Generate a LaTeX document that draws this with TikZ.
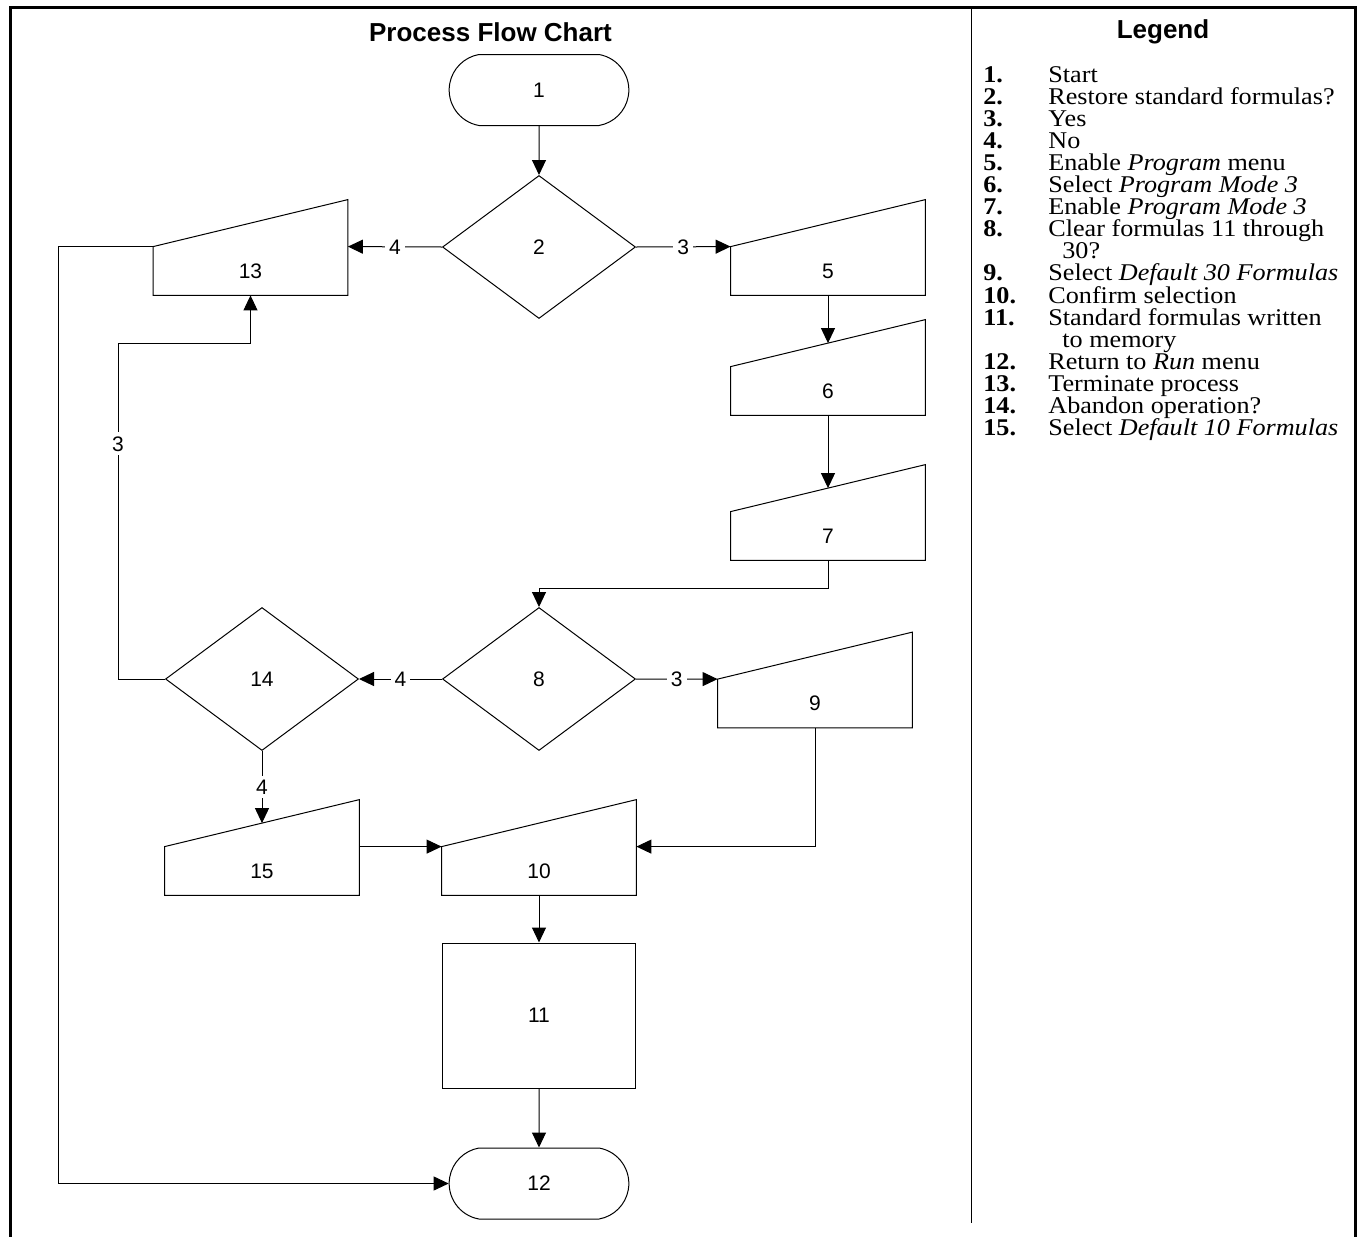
\documentclass[tikz,border=0pt]{standalone}
\usepackage{fontspec}
\setmainfont{Liberation Serif}
\setsansfont{Liberation Sans}
\usetikzlibrary{shapes.geometric, shapes.misc, arrows.meta, positioning}
\newcommand{\chartfont}{\sffamily\fontsize{10.5}{12}\selectfont}
\newcommand{\legwide}[1]{\scalebox{1.09}[1]{#1}}
\tikzstyle{term} = [rounded rectangle, rounded rectangle arc length=160, minimum width=96.5pt, minimum height=35.5pt, draw, line width=0.5pt, font=\chartfont]
\tikzstyle{decision} = [diamond, minimum width=96.5pt, minimum height=71.5pt, inner sep=0pt, draw, line width=0.5pt, font=\chartfont]
\tikzstyle{manin} = [rectangle, minimum width=97pt, minimum height=24pt, inner sep=0pt, font=\chartfont]
\tikzstyle{process} = [rectangle, minimum width=96.5pt, minimum height=72.5pt, draw, line width=0.5pt, font=\chartfont]
\tikzstyle{arrow} = [line width=0.5pt, -{Triangle[length=7.5pt,width=7pt]}]
\tikzstyle{lbl} = [fill=white, inner sep=2pt, font=\chartfont]
\tikzstyle{header} = [font=\sffamily\bfseries\fontsize{13}{15}\selectfont]
\tikzstyle{legnum} = [anchor=base west, inner sep=0pt, font=\bfseries\fontsize{12}{14}\selectfont]
\tikzstyle{legtxt} = [anchor=base west, inner sep=0pt, font=\fontsize{12}{14}\selectfont]

\begin{document}
\begin{tikzpicture}[x=0.5pt, y=-0.5pt, node distance=78.5pt]
        \useasboundingbox (0,0) rectangle (1361,1237);
        % frame and column rule
        \draw[line width=1.5pt] (10,1237) |- (1355,7) -- (1355,1237);
        \draw[line width=0.5pt] (971,7) -- (971,1223);
        \node (title) [header] at (490.5,32) {Process Flow Chart};
        \node (legtitle) [header] at (1163,32) {Legend};

        \node (n1) [term] at (539,90) {1};
        \node (n2) [decision, below of=n1] {2};
        \node (n13) [manin, left of=n2, xshift=-65.75pt, yshift=-12pt] {13};
        \node (n5) [manin, right of=n2, xshift=66pt, yshift=-12pt] {5};
        \node (n6) [manin, below of=n5, yshift=18.5pt] {6};
        \node (n7) [manin, below of=n6, yshift=6pt] {7};

        \node (n8) [decision, below of=n2, yshift=-137.5pt] {8};
        \node (n14) [decision, left of=n8, xshift=-60pt] {14};
        \node (n9) [manin, right of=n8, xshift=59.5pt, yshift=-12.25pt] {9};
        \node (n10) [manin, below of=n8, yshift=-17.5pt] {10};
        \node (n15) [manin, left of=n10, xshift=-60pt] {15};
        \node (n11) [process, below of=n10, yshift=6.25pt] {11};
        \node (n12) [term, below of=n11, yshift=-5.5pt] {12};

        % manual input outlines
        \foreach \n in {n13,n5,n6,n7,n9,n15,n10} {
            \draw[line width=0.5pt] (\n.north west) -- ([yshift=23.5pt]\n.north east) -- (\n.south east) -- (\n.south west) -- cycle;
            \coordinate (\n-top) at ([yshift=11.75pt]\n.north);
        }
        \coordinate (bend) at (118,343);

        \draw [arrow] (n1) -- (n2);
        \draw [arrow] (n2.west) -- node[lbl] {4} (n13.north east);
        \draw [arrow] (n2.east) -- node[lbl] {3} (n5.north west);
        \draw [arrow] (n5.south) -- (n6-top);
        \draw [arrow] (n6.south) -- (n7-top);
        \draw [arrow] (n7.south) -- ++(0,28) -| (n8.north);
        \draw [arrow] (n8.west) -- node[lbl] {4} (n14.east);
        \draw [arrow] (n8.east) -- node[lbl] {3} (n9.north west);
        \draw [arrow] (n14.west) -| node[lbl, pos=0.85] {3} (bend) -| (n13.south);
        \draw [arrow] (n14.south) -- node[lbl] {4} (n14.south |- n15-top);
        \draw [arrow] (n15.north east) -- (n10.north west);
        \draw [arrow] (n9.south) |- (n10.north east);
        \draw [arrow] (n10) -- (n11);
        \draw [arrow] (n11) -- (n12);
        \draw [arrow] (n13.north west) -- ++(-95,0) |- (n12.west);

        % legend
        \foreach \num/\txt/\row in {1/Start/0, 2/Restore standard formulas?/1, 3/Yes/2, 4/No/3,
            5/Enable \textit{Program} menu/4, 6/Select \textit{Program Mode 3}/5,
            7/Enable \textit{Program Mode 3}/6, 8/Clear formulas 11 through/7,
            9/Select \textit{Default 30 Formulas}/9, 10/Confirm selection/10,
            11/Standard formulas written/11, 12/Return to \textit{Run} menu/13,
            13/Terminate process/14, 14/Abandon operation?/15, 15/Select \textit{Default 10 Formulas}/16} {
            \node (num\num) [legnum] at (983,{82+22.1*\row}) {\legwide{\num.}};
            \node (leg\num) [legtxt] at (1048,{82+22.1*\row}) {\legwide{\txt}};
        }
        \node (leg8b) [legtxt] at (1062,{82+22.1*8}) {\legwide{30?}};
        \node (leg11b) [legtxt] at (1062,{82+22.1*12}) {\legwide{to memory}};
    \end{tikzpicture}
\end{document}
